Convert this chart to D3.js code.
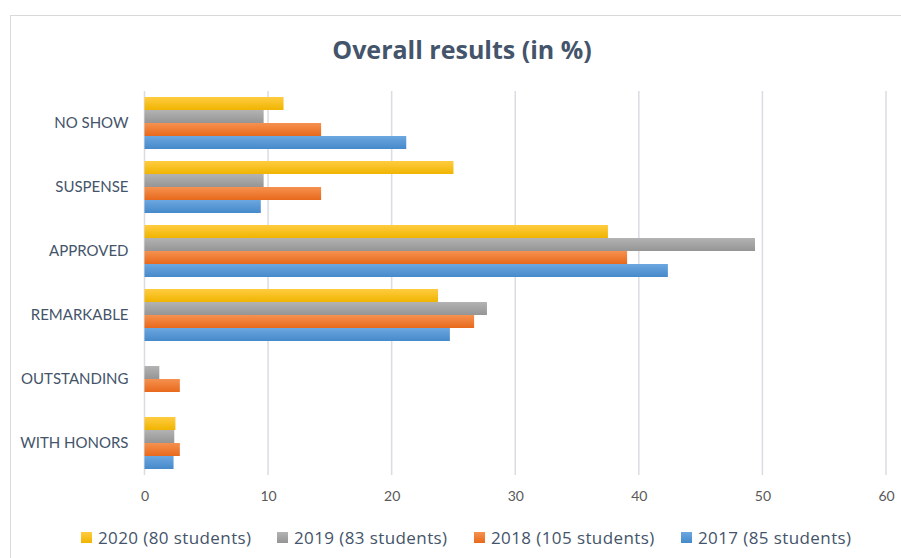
<!DOCTYPE html>
<html><head><meta charset="utf-8">
<script src="https://cdn.jsdelivr.net/npm/d3@7"></script>
<style>body{margin:0;background:#fff;}svg{display:block;}</style>
</head><body>
<script>
const categories = ["WITH HONORS","OUTSTANDING","REMARKABLE","APPROVED","SUSPENSE","NO SHOW"];
const seriesNames = ["2020 (80 students)","2019 (83 students)","2018 (105 students)","2017 (85 students)"];
const values2020 = [2.5, 0, 23.75, 37.5, 25.0, 11.25];
const values2019 = [2.41, 1.2, 27.71, 49.4, 9.64, 9.64];
const values2018 = [2.86, 2.86, 26.67, 39.05, 14.29, 14.29];
const values2017 = [2.35, 0, 24.71, 42.35, 9.41, 21.18];
const xTicks = [0,10,20,30,40,50,60];
const seriesValues = [values2020, values2019, values2018, values2017];
const colors = [
  ["#FFCC40","#F0B400"],
  ["#B3B3B3","#959595"],
  ["#F5914F","#E8691C"],
  ["#6CA7E0","#4689CA"]
];

const W=901,H=558;
const svg=d3.select("body").append("svg").attr("width",W).attr("height",H);
const defs=svg.append("defs");
colors.forEach((c,i)=>{
  const g=defs.append("linearGradient").attr("id","g"+i).attr("x1",0).attr("y1",0).attr("x2",0).attr("y2",1);
  g.append("stop").attr("offset","0%").attr("stop-color",c[0]);
  g.append("stop").attr("offset","100%").attr("stop-color",c[1]);
});
svg.append("rect").attr("x",10.5).attr("y",15.5).attr("width",W).attr("height",H).attr("fill","#fff").attr("stroke","#D9D9D9").attr("stroke-width",1);

svg.append("text").attr("x",462).attr("y",59).attr("text-anchor","middle")
  .attr("font-family","Open Sans").attr("font-weight","bold").attr("font-size",25).attr("fill","#44546A")
  .text("Overall results (in %)");

const pLeft=144.5, pRight=886, pTop=91, pBottom=475;
const x=d3.scaleLinear().domain([0,60]).range([pLeft,pRight]);
const y=d3.scaleBand().domain(categories).range([pBottom,pTop]).paddingInner(0.1875).paddingOuter(0.09375);
const ys=d3.scaleBand().domain(d3.range(4)).range([0,y.bandwidth()]);

svg.append("g").selectAll("line").data(xTicks).join("line")
  .attr("x1",d=>x(d)).attr("x2",d=>x(d)).attr("y1",pTop).attr("y2",pBottom)
  .attr("stroke","#D9DCE3").attr("stroke-width",1.5);

const xAxis=svg.append("g").attr("transform",`translate(0,${pBottom})`)
  .call(d3.axisBottom(x).tickValues(xTicks).tickSize(0).tickPadding(16));
xAxis.select(".domain").remove();
xAxis.selectAll("text").attr("font-family","Lato").attr("font-size",14).attr("fill","#595959");

const yAxis=svg.append("g").attr("transform",`translate(${pLeft-16},0)`)
  .call(d3.axisLeft(y).tickSize(0).tickPadding(0));
yAxis.select(".domain").remove();
yAxis.selectAll("text").attr("font-family","Lato").attr("font-size",15).attr("fill","#44546A").attr("dy","0.35em");

seriesValues.forEach((vals,si)=>{
  svg.append("g").selectAll("rect").data(vals.map((v,i)=>({c:categories[i],v}))).join("rect")
    .attr("x",x(0)).attr("y",d=>y(d.c)+ys(si)).attr("width",d=>x(d.v)-x(0)).attr("height",ys.bandwidth())
    .attr("fill",`url(#g${si})`);
});

const legendX=[81,277,474,681];
const lg=svg.append("g");
seriesNames.forEach((n,i)=>{
  lg.append("rect").attr("x",legendX[i]).attr("y",532).attr("width",11).attr("height",11).attr("fill",`url(#g${i})`);
  lg.append("text").attr("x",legendX[i]+17).attr("y",544).attr("font-family","Open Sans").attr("font-size",17)
    .attr("letter-spacing",0.4).attr("fill","#44546A").text(n);
});
</script>
</body></html>
